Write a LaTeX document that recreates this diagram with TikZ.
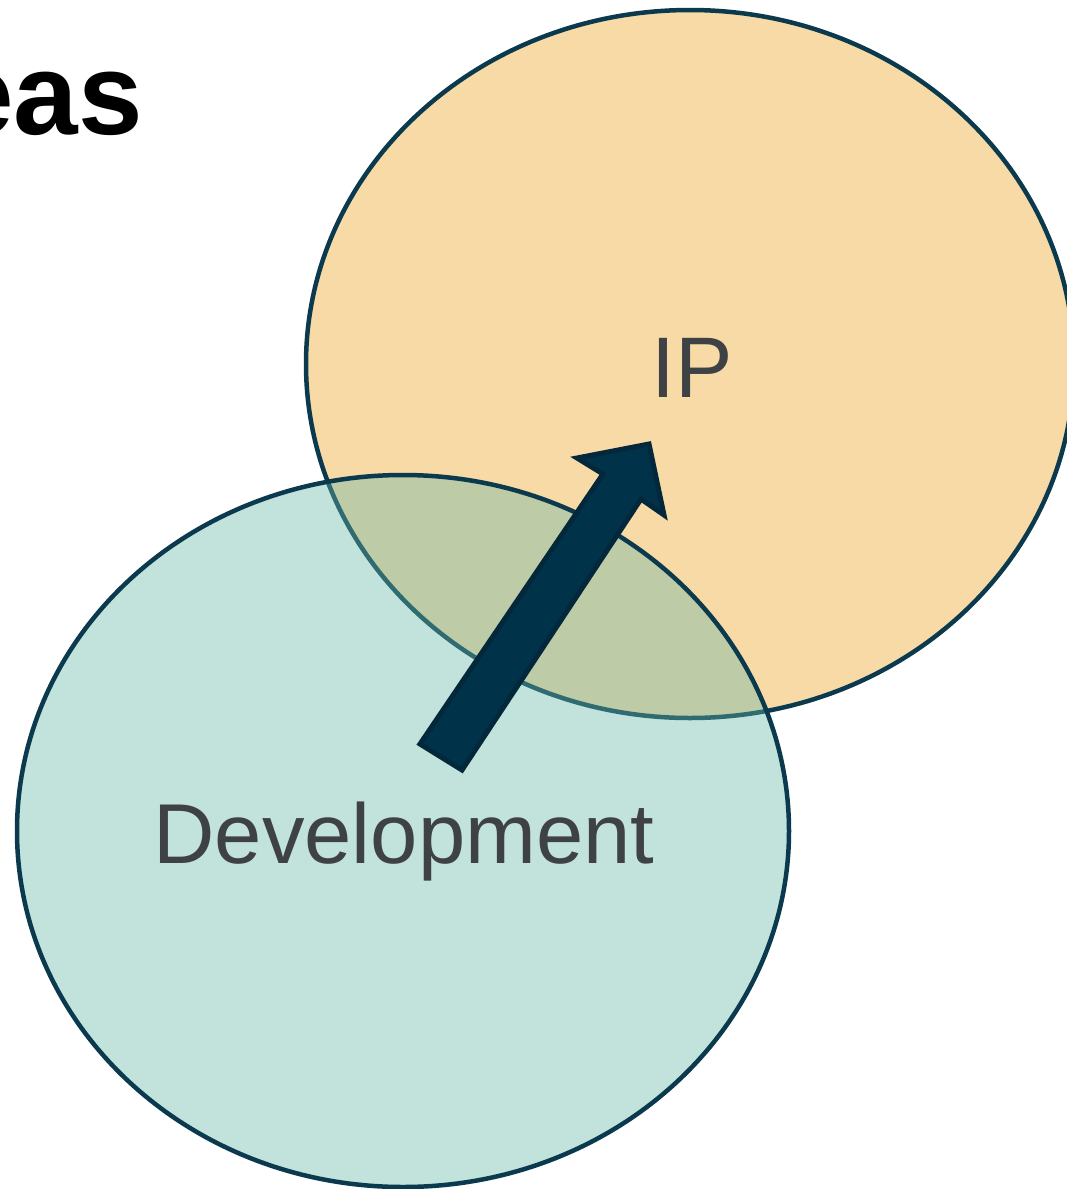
\documentclass[tikz,border=0pt]{standalone}
\usepackage{fontspec}
\setmainfont{Liberation Sans}
\usetikzlibrary{shapes.geometric}
\definecolor{ipfill}{RGB}{247,218,166}
\definecolor{devfill}{RGB}{102,182,167}
\definecolor{setedge}{RGB}{11,58,78}
\definecolor{arrowfill}{RGB}{0,51,73}
\definecolor{arrowedge}{RGB}{3,40,60}
\definecolor{labelgray}{RGB}{63,66,68}
\begin{document}
\begin{tikzpicture}[x=1pt,y=-1pt,
  setshape/.style={ellipse, draw=setedge, line width=4.5pt, inner sep=0pt, outer sep=0pt},
  setlabel/.style={text=labelgray, anchor=base, inner sep=0pt, font=\fontsize{86}{90}\selectfont},
  blockarrow/.style={fill=arrowfill, draw=arrowedge, line width=5pt, line join=miter}]
\useasboundingbox (0,0) rectangle (1066,1189);
\node[anchor=base east, inner sep=0pt, font=\fontsize{116}{120}\selectfont\bfseries] (title) at (143,134) {eas};
\node[setshape, fill=ipfill, minimum width=768pt, minimum height=708pt] (ipset) at (690,364) {};
\node[setshape, fill=devfill, fill opacity=0.4, minimum width=772pt, minimum height=712pt] (devset) at (403,831) {};
\coordinate (tl) at (420,744);
\coordinate (nl) at (603,474);
\coordinate (bl) at (577,458);
\coordinate (tip) at (649,444);
\coordinate (br) at (664,515);
\coordinate (nr) at (641,499);
\coordinate (tr) at (462,770);
\draw[blockarrow] (tl) -- (nl) -- (bl) -- (tip) -- (br) -- (nr) -- (tr) -- cycle;
\node[setlabel] (iplabel) at (692,397) {IP};
\node[setlabel, font=\fontsize{85}{90}\selectfont] (devlabel) at (404,863) {Development};
\end{tikzpicture}
\end{document}
